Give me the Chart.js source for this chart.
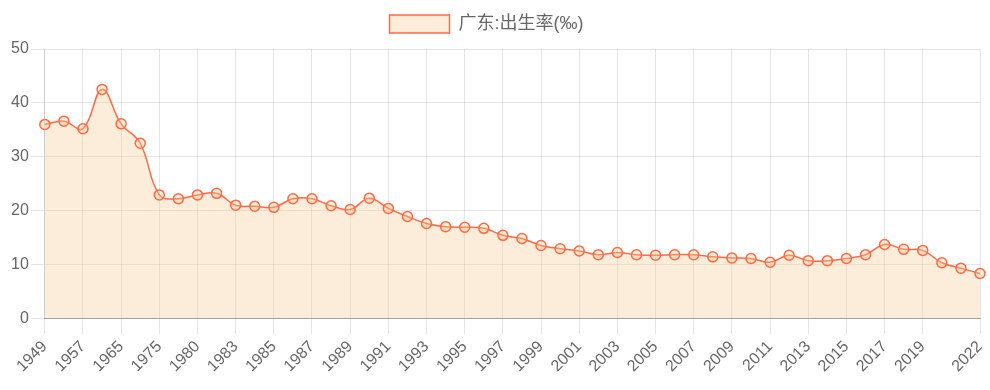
<!DOCTYPE html>
<html>
<head>
<meta charset="utf-8">
<script src="https://cdn.jsdelivr.net/npm/chart.js@4/dist/chart.umd.min.js"></script>
<style>
html,body{margin:0;padding:0;background:#fff;}
#wrap{width:990px;height:390px;}
</style>
</head>
<body>
<div id="wrap"><canvas id="c" width="990" height="390"></canvas></div>
<script>
const years = ['1949','1952','1957','1962','1965','1970','1975','1978','1980','1982',
  '1983','1984','1985','1986','1987','1988','1989','1990','1991','1992',
  '1993','1994','1995','1996','1997','1998','1999','2000','2001','2002',
  '2003','2004','2005','2006','2007','2008','2009','2010','2011','2012',
  '2013','2014','2015','2016','2017','2018','2019','2020','2021','2022'];
const birthRate = [36.0,36.6,35.2,42.5,36.1,32.5,22.9,22.2,22.9,23.2,
  21.0,20.8,20.6,22.2,22.2,20.9,20.2,22.3,20.4,18.9,
  17.6,17.0,16.9,16.7,15.4,14.8,13.5,12.9,12.5,11.8,
  12.2,11.8,11.7,11.8,11.8,11.4,11.2,11.1,10.4,11.7,
  10.7,10.7,11.1,11.8,13.7,12.8,12.6,10.3,9.3,8.3];
const seriesName = '广东:出生率(‰)';

const lineColor = '#ff6a45';
const fillColor = 'rgba(247,200,150,0.35)';
const font = {family: '"Liberation Sans", Arial, sans-serif', size: 16};
const legendFont = {family: '"Liberation Sans", Arial, "Noto Sans CJK SC", sans-serif', size: 18};

const legendGap = {
  id: 'legendGap',
  beforeInit(chart) {
    const origFit = chart.legend.fit;
    chart.legend.fit = function() {
      origFit.call(this);
      this.height += 6;
    };
  },
  beforeDraw(chart) {
    chart.legend.left -= 13;
    chart.legend.right -= 13;
  }
};

new Chart(document.getElementById('c'), {
  type: 'line',
  data: {
    labels: years,
    datasets: [{
      label: seriesName,
      data: birthRate,
      borderColor: lineColor,
      backgroundColor: fillColor,
      pointBackgroundColor: fillColor,
      pointBorderColor: lineColor,
      pointRadius: 5,
      pointBorderWidth: 1.5,
      borderWidth: 1.5,
      fill: true,
      tension: 0.4
    }]
  },
  plugins: [legendGap],
  options: {
    responsive: false,
    animation: false,
    layout: {padding: {left: 9, right: 0, top: 5, bottom: 11}},
    plugins: {
      legend: {
        labels: {boxWidth: 60, boxHeight: 18, color: '#666', font: legendFont}
      },
      tooltip: {enabled: true}
    },
    scales: {
      x: {
        afterFit(scale) { scale.paddingRight = 10; },
        grid: {color: 'rgba(0,0,0,0.1)', tickLength: 16},
        border: {color: 'rgba(0,0,0,0.3)'},
        ticks: {
          autoSkip: false,
          color: '#666',
          font: font,
          maxRotation: 45,
          minRotation: 45,
          callback: function(v, i) {
            const n = years.length;
            if (i === n - 1) return years[i];
            if (i % 2 === 0 && i !== n - 2) return years[i];
            return null;
          }
        }
      },
      y: {
        min: 0, max: 50,
        grid: {color: 'rgba(0,0,0,0.1)', tickLength: 14},
        border: {color: 'rgba(0,0,0,0.1)'},
        ticks: {stepSize: 10, color: '#666', font: font, padding: 2}
      }
    }
  }
});
</script>
</body>
</html>
